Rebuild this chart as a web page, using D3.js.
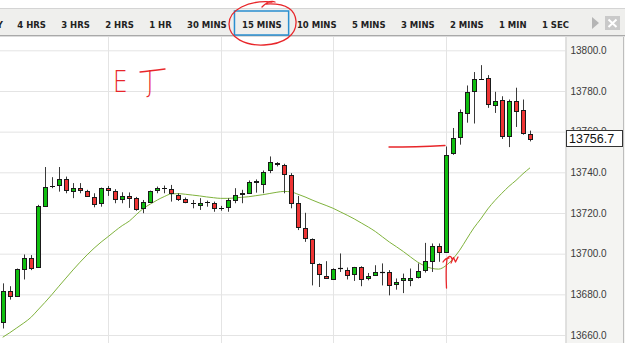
<!DOCTYPE html>
<html><head><meta charset="utf-8">
<script src="https://cdn.jsdelivr.net/npm/d3@7"></script>
<style>html,body{margin:0;padding:0;background:#fff;overflow:hidden}</style>
</head><body><svg id="c" width="625" height="343"></svg>
<script>
// ---- data (15-minute candles) ----
const opens  = [13666.3,13681.5,13679.0,13692.5,13698.1,13693.5,13723.6,13733.2,13733.5,13736.6,13731.0,13732.5,13731.0,13728.0,13724.6,13732.3,13730.9,13726.9,13728.5,13727.3,13722.3,13725.6,13731.2,13732.0,13731.7,13728.9,13726.8,13724.8,13723.9,13725.1,13724.8,13722.3,13722.8,13726.4,13728.9,13729.7,13735.0,13734.7,13740.9,13744.8,13743.7,13738.8,13724.8,13712.4,13707.2,13694.7,13689.2,13688.0,13692.7,13692.2,13689.9,13693.5,13687.8,13689.7,13691.0,13691.0,13685.3,13686.6,13686.9,13688.5,13691.9,13696.3,13703.9,13700.9,13749.5,13757.4,13769.5,13779.9,13786.2,13786.2,13773.3,13775.8,13758.0,13775.3,13770.5,13759.0];
const highs  = [13685.4,13684.0,13692.7,13699.6,13699.3,13724.0,13742.6,13737.6,13742.6,13737.9,13734.7,13734.7,13731.4,13729.7,13732.5,13733.3,13731.7,13730.2,13730.1,13727.9,13726.4,13731.0,13733.0,13733.5,13733.8,13729.7,13727.6,13726.4,13727.3,13726.1,13725.6,13723.5,13727.3,13732.2,13731.4,13736.0,13736.5,13740.9,13747.8,13745.0,13744.2,13739.6,13728.4,13720.1,13707.5,13695.2,13696.3,13692.8,13700.1,13693.2,13693.5,13693.8,13690.5,13694.3,13695.2,13691.9,13687.8,13690.2,13692.7,13695.2,13705.3,13705.0,13705.0,13752.7,13761.8,13770.9,13782.7,13789.3,13792.7,13787.8,13779.6,13777.4,13775.8,13781.6,13775.8,13760.5];
const lows   = [13663.2,13677.4,13678.7,13687.3,13691.9,13693.3,13723.1,13732.2,13730.5,13729.7,13727.3,13729.7,13728.0,13722.8,13723.1,13728.4,13724.8,13724.8,13722.5,13721.1,13719.9,13725.4,13729.7,13729.7,13725.6,13725.9,13724.8,13722.3,13721.5,13723.1,13720.6,13721.1,13720.6,13724.8,13724.8,13729.4,13730.0,13729.7,13739.6,13742.9,13729.7,13722.3,13711.6,13705.8,13684.4,13683.6,13687.8,13687.8,13691.0,13687.3,13686.6,13684.0,13686.9,13689.4,13684.4,13679.5,13682.3,13680.6,13684.0,13687.8,13690.7,13691.0,13696.0,13700.4,13748.6,13753.6,13764.4,13764.0,13785.7,13771.7,13769.2,13756.4,13752.4,13762.3,13758.5,13755.2];
const closes = [13681.5,13679.0,13692.3,13697.9,13693.2,13723.5,13733.0,13733.4,13736.6,13731.4,13732.5,13731.5,13728.5,13724.4,13732.2,13731.4,13726.9,13728.4,13727.3,13721.8,13725.3,13730.9,13732.3,13732.1,13729.7,13726.9,13725.1,13724.9,13725.1,13725.2,13722.3,13722.4,13726.4,13728.9,13729.6,13735.2,13735.6,13740.4,13745.0,13744.2,13739.3,13725.1,13712.9,13707.5,13695.2,13689.7,13688.0,13692.7,13692.8,13689.9,13693.2,13687.8,13689.0,13691.0,13691.1,13684.8,13686.1,13687.8,13688.0,13691.4,13696.3,13703.9,13700.9,13748.6,13756.9,13769.5,13779.6,13786.0,13786.1,13773.3,13775.3,13758.0,13775.3,13770.5,13759.4,13756.7];
const movingAvg = [13658.9,13661.1,13663.5,13665.9,13668.6,13672.3,13676.0,13679.9,13684.0,13688.0,13692.0,13695.8,13699.4,13702.7,13705.7,13708.4,13711.2,13713.8,13716.0,13719.2,13722.2,13724.4,13726.4,13728.1,13729.4,13729.5,13729.2,13728.8,13728.4,13727.9,13727.5,13727.2,13727.2,13727.4,13727.7,13728.0,13728.5,13729.0,13729.6,13730.2,13730.6,13730.4,13729.2,13727.9,13726.4,13725.0,13723.7,13722.3,13720.6,13718.9,13717.1,13715.1,13713.1,13710.9,13708.3,13705.7,13703.4,13701.0,13698.4,13695.9,13694.0,13692.8,13692.4,13694.0,13697.3,13701.7,13707.2,13712.6,13717.1,13722.0,13726.1,13729.7,13733.1,13736.0,13739.3,13742.2];
const priceTicks = [13660,13680,13700,13720,13740,13760,13780,13800];
const timeGridIdx = [15,31,47,63];
const lastPrice = 13756.7;
const timeframes = ["1 DAY","4 HRS","3 HRS","2 HRS","1 HR","30 MINS","15 MINS","10 MINS","5 MINS","3 MINS","2 MINS","1 MIN","1 SEC"];
const selectedTimeframe = "15 MINS";
const noteLetters = ["E","J"];

// ---- layout ----
const W = 625, H = 343;
const plot = {left:0, right:565.5, top:37, bottom:343};
const svg = d3.select("#c");

const x = d3.scaleLinear().domain([0, 75]).range([2.7, 530]);
const y = d3.scaleLinear().domain([13660, 13800]).range([335, 50.3]);

svg.append("rect").attr("x",0).attr("y",0).attr("width",W).attr("height",H).attr("fill","#fff");

svg.append("clipPath").attr("id","pc").append("rect")
  .attr("x",plot.left).attr("y",plot.top).attr("width",plot.right-plot.left).attr("height",plot.bottom-plot.top);
const g = svg.append("g").attr("clip-path","url(#pc)");

// horizontal grid via axis
const gridY = g.append("g").attr("transform",`translate(${plot.left},0)`)
  .call(d3.axisLeft(y).tickValues(priceTicks).tickSize(-(plot.right-plot.left)).tickFormat(""));
gridY.select(".domain").remove();
gridY.selectAll("line").attr("stroke","#e4e4e4").attr("stroke-width",1);
// vertical grid
g.selectAll(".vg").data(timeGridIdx).join("line")
  .attr("x1",d=>Math.round(x(d))+0.5).attr("x2",d=>Math.round(x(d))+0.5)
  .attr("y1",plot.top).attr("y2",plot.bottom).attr("stroke","#e4e4e4");

// moving average
const idx = d3.range(closes.length);
g.append("path").datum(idx)
  .attr("d", d3.line().x(i=>x(i)).y(i=>y(movingAvg[i])).curve(d3.curveMonotoneX))
  .attr("fill","none").attr("stroke","#7fb23c").attr("stroke-width",1);

// candles
const cg = g.append("g");
idx.forEach(i=>{
  const cx = Math.round(x(i));
  cg.append("line").attr("x1",cx+0.5).attr("x2",cx+0.5)
    .attr("y1",y(highs[i])).attr("y2",y(lows[i])).attr("stroke","#3a3a3a").attr("stroke-width",1);
  const o = opens[i], c = closes[i];
  if (Math.abs(c-o) < 0.35) {
    cg.append("line").attr("x1",cx-2).attr("x2",cx+3)
      .attr("y1",Math.round(y(c))+0.5).attr("y2",Math.round(y(c))+0.5).attr("stroke","#111").attr("stroke-width",1.2);
  } else {
    const top = y(Math.max(o,c)), bot = y(Math.min(o,c));
    cg.append("rect").attr("x",cx-1.5).attr("width",4)
      .attr("y",Math.round(top)+0.5).attr("height",Math.max(1,Math.round(bot-top)))
      .attr("fill", c>o ? "#0fbf0f" : "#ee3434").attr("stroke","#1a1a1a").attr("stroke-width",1);
  }
});

// ---- right price axis panel ----
svg.append("rect").attr("x",plot.right).attr("y",plot.top).attr("width",W-plot.right).attr("height",H-plot.top).attr("fill","#f4f4f2");
svg.append("line").attr("x1",plot.right+0.5).attr("x2",plot.right+0.5).attr("y1",plot.top).attr("y2",H).attr("stroke","#c9c9c9");
svg.append("line").attr("x1",623.5).attr("x2",623.5).attr("y1",plot.top).attr("y2",H).attr("stroke","#bdbdbd");
const ax = svg.append("g").attr("transform",`translate(${plot.right},0)`)
  .call(d3.axisRight(y).tickValues(priceTicks).tickSize(0).tickPadding(5).tickFormat(d3.format(".1f")));
ax.select(".domain").remove();
ax.selectAll("text").attr("font-family","'Liberation Sans', Arial, sans-serif").attr("font-size",10).attr("fill","#3a3a3a");

// last price box
const ly = y(lastPrice);
svg.append("rect").attr("x",566.5).attr("y",Math.round(ly)-7.5).attr("width",56).attr("height",16)
  .attr("fill","#fff").attr("stroke","#333").attr("stroke-width",1);
svg.append("text").attr("x",569).attr("y",ly+0.5).attr("dy","0.36em")
  .attr("font-family","'Liberation Sans', Arial, sans-serif").attr("font-size",12.5).attr("fill","#111")
  .text(d3.format(".1f")(lastPrice));

// ---- toolbar ----
svg.append("rect").attr("x",0).attr("y",8.5).attr("width",W).attr("height",27.5).attr("fill","#efefed");
svg.append("line").attr("x1",0).attr("x2",W).attr("y1",8.5).attr("y2",8.5).attr("stroke","#d4d4d4");
svg.append("line").attr("x1",0).attr("x2",W).attr("y1",35.5).attr("y2",35.5).attr("stroke","#a9a9a9");
svg.append("line").attr("x1",0).attr("x2",W).attr("y1",36.5).attr("y2",36.5).attr("stroke","#dcdcdc");

const tb = svg.append("g").attr("font-family","'DejaVu Sans', sans-serif").attr("font-size",8.5)
  .attr("font-weight","bold").attr("fill","#222");
let cursor = 17.3;
const gap = 15.3;
timeframes.forEach((t,k)=>{
  if (k===0) {
    tb.append("text").attr("x",2.8).attr("y",27.6).attr("text-anchor","end").text(t);
    return;
  }
  const el = tb.append("text").attr("x",cursor).attr("y",27.6).text(t);
  const w = el.node().getComputedTextLength();
  if (t===selectedTimeframe) {
    svg.append("rect").attr("x",cursor-7.5).attr("y",11).attr("width",w+14.5).attr("height",24)
      .attr("fill","none").attr("stroke","#2a8fd0").attr("stroke-width",1.5);
  }
  cursor += w + gap;
});
svg.append("path").attr("d","M592,17 L599,23 L592,29 Z").attr("fill","#b5b5b5");
svg.append("rect").attr("x",605).attr("y",16).attr("width",15).attr("height",14).attr("fill","#c9c9c9");
svg.append("path").attr("d","M608.5,19.5 L616.5,27 M616.5,19.5 L608.5,27").attr("stroke","#fff").attr("stroke-width",2);

// ---- hand-drawn red annotations ----
const red = "#e8262a";
const ann = svg.append("g").attr("fill","none").attr("stroke",red).attr("stroke-width",1.3)
  .attr("stroke-linecap","round").attr("stroke-linejoin","round");
ann.append("path").attr("d","M272,2 C248,0 229,10 229,24 C229,38 246,46 264,45 C284,44 297,35 296,21 C295,9 285,3 266,4 M262,7 C266,3 270,0 275,2");
ann.append("path").attr("d","M389,147 C405,147 425,146.5 445,145.5");
ann.append("path").attr("d","M446.5,288 C446,278 446,266 447,259 C448,256 451,255 452,259 M443,262 C445,259 447,258 449,258 M451,263 L453.5,257.5 L455.5,262 L458,257");
ann.append("path").attr("d","M140,72 C149,71 157,70 165,69");
const note = svg.append("text").attr("x",113).attr("y",92).attr("font-family","'DejaVu Sans', sans-serif")
  .attr("font-weight",200).attr("font-size",31).attr("fill",red)
  .attr("transform","translate(113,92) scale(0.75,1) translate(-113,-92)");
note.append("tspan").text(noteLetters[0]);
note.append("tspan").attr("dx",25).text(noteLetters[1]);
</script></body></html>
